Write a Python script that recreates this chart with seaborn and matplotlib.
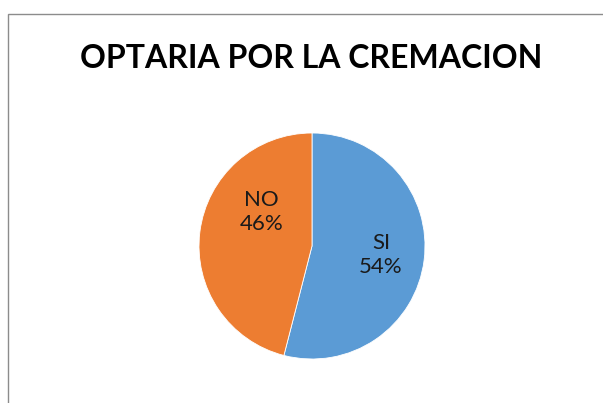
import matplotlib
matplotlib.use("Agg")
import matplotlib.pyplot as plt
import seaborn as sns
from matplotlib.patches import Rectangle

# datos del grafico
categorias = ["SI", "NO"]
porcentajes = [54, 46]
colores = ["#5B9BD5", "#ED7D31"]
titulo = "OPTARIA POR LA CREMACION"

sns.set_theme(style="white")
plt.rcParams['font.family'] = ['Lato', 'DejaVu Sans']

W, H = 603, 403
fig = plt.figure(figsize=(W / 100, H / 100), dpi=100)

# marco del area del grafico (solo se ve arriba e izquierda)
fig.patches.append(Rectangle((7.5 / W, -0.1), 1.2, (H - 13.5) / H + 0.1,
                             transform=fig.transFigure, fill=False,
                             edgecolor="#8c8c8c", linewidth=1.0))

# centro del pie (312, 246), radio 113 px
cx, cy, r = 312, 246, 113
ax = fig.add_axes([(cx - r) / W, (H - cy - r) / H, 2 * r / W, 2 * r / H])
wedges, _ = ax.pie(porcentajes, colors=colores, startangle=90, counterclock=False,
                   wedgeprops=dict(edgecolor="white", linewidth=0.6))
ax.set_xlim(-1, 1)
ax.set_ylim(-1, 1)
ax.set_aspect("equal")
ax.axis("off")

# etiquetas (posicion "mejor ajuste" como en Excel)
pos_etiquetas = [(0.61, -0.08), (-0.45, 0.30)]
for cat, val, (x, y) in zip(categorias, porcentajes, pos_etiquetas):
    ax.text(x, y, f"{cat}\n{val}%", ha="center", va="center", fontsize=16,
            color="#1a1a1a", linespacing=1.3)

fig.text(311 / W, 1 - 58 / H, titulo, ha="center", va="center",
         fontsize=23, fontweight="bold", color="black")

fig.savefig("out.png", dpi=100)
